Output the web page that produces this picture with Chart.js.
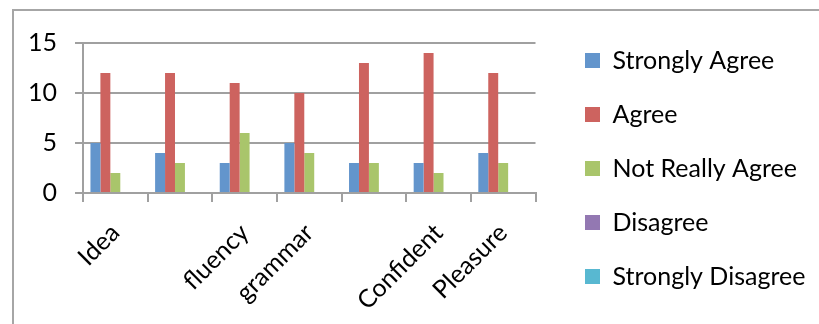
<!DOCTYPE html>
<html lang="en">
<head>
<meta charset="UTF-8">
<title>Survey responses</title>
<style>
  html, body { margin: 0; padding: 0; background: #fff; }
</style>
</head>
<body>
<canvas id="surveyChart" width="819" height="324"></canvas>

<script src="https://cdn.jsdelivr.net/npm/chart.js"></script>
<script>
// data
const categories = ['Idea', '', 'fluency', 'grammar', '', 'Confident', 'Pleasure'];
const stronglyAgree = [5, 4, 3, 5, 3, 3, 4];
const agree = [12, 12, 11, 10, 13, 14, 12];
const notReallyAgree = [2, 3, 6, 4, 3, 2, 3];
const disagree = [0, 0, 0, 0, 0, 0, 0];
const stronglyDisagree = [0, 0, 0, 0, 0, 0, 0];
const seriesNames = ['Strongly Agree', 'Agree', 'Not Really Agree', 'Disagree', 'Strongly Disagree'];
const seriesColors = ['#6395cc', '#cd635f', '#a9c56b', '#9378b2', '#58b8d1'];
const yMin = 0, yMax = 15, yStep = 5;

const FONT = { family: 'Lato', size: 25 };
const GRID = '#a0a0a0';

// legend geometry: boxes start at x=585, plot ends at x~535
const legendPad = 54 - FONT.size;
const meas = document.createElement('canvas').getContext('2d');
meas.font = FONT.size + 'px ' + FONT.family;
const widest = Math.max(...seriesNames.map(n => meas.measureText(n).width));
const rightPad = Math.max(0, 209 - FONT.size / 2 - widest);
const gapWidth = 49.5 - legendPad;

// grey frame on the left and top, like the pasted Excel chart
const frame = {
  id: 'frame',
  beforeDraw(chart) {
    const ctx = chart.ctx;
    ctx.save();
    ctx.strokeStyle = '#a6a6a6';
    ctx.lineWidth = 2;
    ctx.beginPath();
    ctx.moveTo(13, chart.height);
    ctx.lineTo(13, 10);
    ctx.lineTo(chart.width, 10);
    ctx.stroke();
    ctx.restore();
  }
};

const seriesData = [stronglyAgree, agree, notReallyAgree, disagree, stronglyDisagree];

new Chart(document.getElementById('surveyChart'), {
  type: 'bar',
  data: {
    labels: categories,
    datasets: seriesNames.map((name, i) => ({
      label: name,
      data: seriesData[i],
      backgroundColor: seriesColors[i],
      borderWidth: 0
    }))
  },
  options: {
    responsive: false,
    animation: false,
    layout: { padding: { top: 13, right: rightPad, bottom: 0, left: 0 } },
    datasets: { bar: { categoryPercentage: 5 / 6.5, barPercentage: 1 } },
    scales: {
      x: {
        offset: true,
        grid: { offset: true, drawOnChartArea: false, tickLength: 9, color: GRID, lineWidth: 2 },
        border: { color: GRID, width: 2 },
        ticks: { color: '#000', font: FONT, minRotation: 45, maxRotation: 45, autoSkip: false, padding: 16 },
        afterFit(s) { s.height = 131; }
      },
      y: {
        min: yMin,
        max: yMax,
        ticks: { stepSize: yStep, padding: 18, color: '#000', font: FONT },
        grid: { color: GRID, lineWidth: 2, tickLength: 8 },
        border: { color: GRID, width: 2 },
        afterFit(s) { s.width = 83; s.paddingTop = 43; }
      },
      // empty strip between the plot and the legend
      gap: {
        type: 'linear',
        position: 'right',
        grid: { display: false },
        ticks: { display: false },
        border: { display: false },
        afterFit(s) { s.width = gapWidth; }
      }
    },
    plugins: {
      legend: {
        position: 'right',
        maxWidth: 400,
        labels: { boxWidth: 15, boxHeight: 15, padding: legendPad, color: '#000', font: FONT }
      },
      tooltip: { enabled: false }
    }
  },
  plugins: [frame]
});
</script>
</body>
</html>
